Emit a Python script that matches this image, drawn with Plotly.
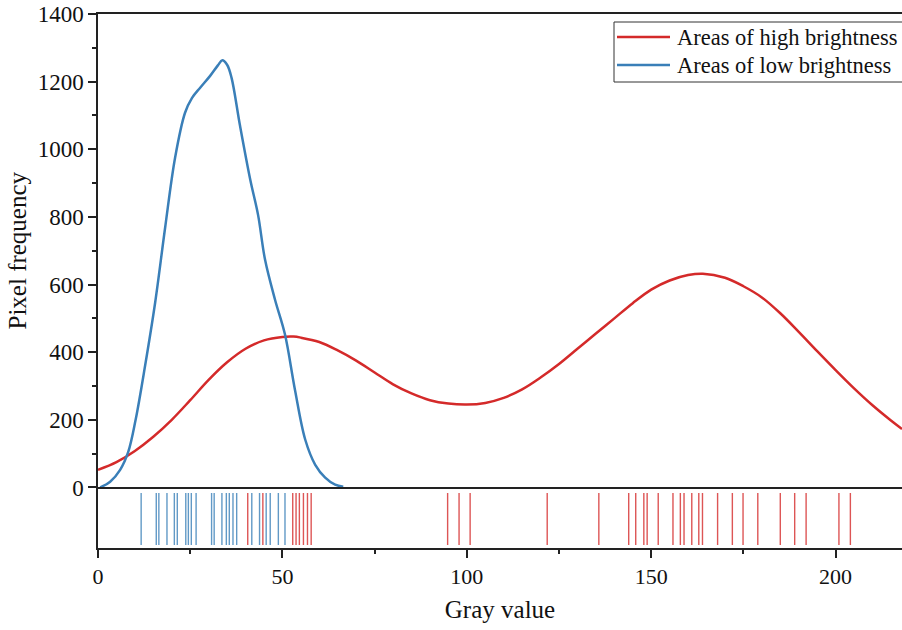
import plotly.graph_objects as go
from plotly.subplots import make_subplots

# ---- data ----
low_x = [0.6, 3.3, 6.0, 8.2, 10.2, 12.8, 15.5, 18.2, 20.9, 23.6, 25.5, 27.7, 30.4, 32.5, 33.7, 35.0,
         36.2, 38.5, 41.3, 43.4, 45.3, 48.0, 50.7, 53.4, 56.2, 58.9, 61.6, 64.3, 66.5]
low_y = [0, 17, 52, 105, 200, 362, 547, 768, 975, 1108, 1152, 1182, 1217, 1248, 1263, 1250,
         1212, 1070, 909, 806, 673, 555, 452, 289, 141, 67, 29, 8, 2]

high_x = [0, 5, 10, 15, 20, 25, 30, 35, 40, 45, 50, 53, 55, 60, 65, 70, 75, 80, 85, 90, 95, 100,
          105, 110, 115, 120, 125, 130, 135, 140, 145, 150, 155, 160, 164, 170, 175, 180, 185,
          190, 195, 200, 205, 210, 215, 218]
high_y = [52, 75, 108, 150, 200, 258, 318, 370, 410, 435, 445, 446, 443, 430, 405, 375, 340, 305,
          278, 258, 248, 245, 250, 265, 290, 325, 365, 410, 455, 500, 545, 585, 612, 628, 632,
          620, 595, 562, 515, 460, 403, 347, 293, 243, 198, 173]

low_rug = [11.7, 15.8, 16.5, 18.7, 20.7, 21.5, 23.8, 24.5, 25.3, 26.6, 30.8, 31.5, 33.6, 34.8,
           35.6, 36.6, 37.6, 41.7, 43.8, 45.6, 46.7, 48.9, 50.7]
high_rug = [40.6, 44.7, 52.8, 53.7, 54.6, 55.7, 56.8, 57.8, 94.8, 97.9, 100.9, 121.8, 135.8,
            143.9, 145.8, 148.0, 148.9, 151.9, 155.9, 157.9, 158.9, 161.0, 162.9, 163.9, 168.0,
            172.0, 174.9, 178.9, 185.0, 188.9, 192.0, 200.9, 204.0]

y_ticks = [0, 200, 400, 600, 800, 1000, 1200, 1400]
x_ticks = [0, 50, 100, 150, 200]
legend_names = ["Areas of high brightness", "Areas of low brightness"]

RED = "#d42a2a"
BLUE = "#3a7fb8"
FONT = "Liberation Serif, Times New Roman, serif"

W, H = 902, 630
ML, MR, MT, MB = 98, 0, 14, 82
PW, PH = W - ML - MR, H - MT - MB


def px_x(px):
    return (px - ML) / PW


def px_y(py):
    return (H - MB - py) / PH


def rug_segments(vals, y0=0.05, y1=0.91):
    xs, ys = [], []
    for v in vals:
        xs += [v, v, None]
        ys += [y0, y1, None]
    return xs, ys


fig = make_subplots(rows=2, cols=1, shared_xaxes=True, vertical_spacing=0,
                    row_heights=[0.8866, 0.1134])

fig.add_trace(go.Scatter(x=high_x, y=high_y, mode="lines", line=dict(color=RED, width=2.5, shape="spline"),
                         name=legend_names[0], showlegend=False), row=1, col=1)
fig.add_trace(go.Scatter(x=low_x, y=low_y, mode="lines", line=dict(color=BLUE, width=2.5, shape="spline"),
                         name=legend_names[1], showlegend=False), row=1, col=1)

lx, ly = rug_segments(low_rug)
hx, hy = rug_segments(high_rug)
fig.add_trace(go.Scatter(x=lx, y=ly, mode="lines", line=dict(color="rgba(58,127,184,0.8)", width=1.4),
                         showlegend=False, hoverinfo="skip"), row=2, col=1)
fig.add_trace(go.Scatter(x=hx, y=hy, mode="lines", line=dict(color="rgba(212,42,42,0.8)", width=1.4),
                         showlegend=False, hoverinfo="skip"), row=2, col=1)

axis_common = dict(showgrid=False, zeroline=False, linecolor="#222", linewidth=1.5)

fig.update_xaxes(row=1, col=1, range=[0, 218], showline=True, mirror=True, ticks="",
                 showticklabels=False, **axis_common)
fig.update_xaxes(row=2, col=1, range=[0, 218], showline=True, ticks="outside", ticklen=8, tickwidth=1.5,
                 tickcolor="#222", tickvals=x_ticks,
                 minor=dict(dtick=25, tick0=0, ticks="outside", ticklen=4, tickwidth=1.5, tickcolor="#222"),
                 title=dict(text="Gray value", font=dict(family=FONT, size=25, color="#111"), standoff=12),
                 tickfont=dict(family=FONT, size=22, color="#111"), **axis_common)
fig.update_yaxes(row=1, col=1, range=[0, 1400], showline=True, ticks="outside", ticklen=8, tickwidth=1.5,
                 tickcolor="#222", tickvals=y_ticks,
                 minor=dict(dtick=100, tick0=0, ticks="outside", ticklen=4, tickwidth=1.5, tickcolor="#222"),
                 title=dict(text="Pixel frequency", font=dict(family=FONT, size=25, color="#111"), standoff=4),
                 tickfont=dict(family=FONT, size=23, color="#111"), **axis_common)
fig.update_yaxes(row=2, col=1, range=[0, 1], showline=True, ticks="", showticklabels=False, **axis_common)

# ---- legend drawn by hand (longer sample lines, box running past the right edge) ----
shapes = [dict(type="rect", xref="paper", yref="paper",
               x0=px_x(614), x1=px_x(910), y0=px_y(82), y1=px_y(22),
               line=dict(color="#333", width=1), fillcolor="white", layer="above")]
annotations = []
for i, (name, col) in enumerate(zip(legend_names, [RED, BLUE])):
    cy = 37 + i * 28
    shapes.append(dict(type="line", xref="paper", yref="paper",
                       x0=px_x(617), x1=px_x(670), y0=px_y(cy), y1=px_y(cy),
                       line=dict(color=col, width=2.5), layer="above"))
    annotations.append(dict(xref="paper", yref="paper", x=px_x(675), y=px_y(cy),
                            xanchor="left", yanchor="middle", text=name, showarrow=False,
                            font=dict(family=FONT, size=22.5, color="#111")))

fig.update_layout(
    width=W, height=H,
    margin=dict(l=ML, r=MR, t=MT, b=MB),
    paper_bgcolor="white", plot_bgcolor="white",
    font=dict(family=FONT, color="#111"),
    shapes=shapes, annotations=annotations,
    showlegend=False,
)

fig.write_html("out.html")
